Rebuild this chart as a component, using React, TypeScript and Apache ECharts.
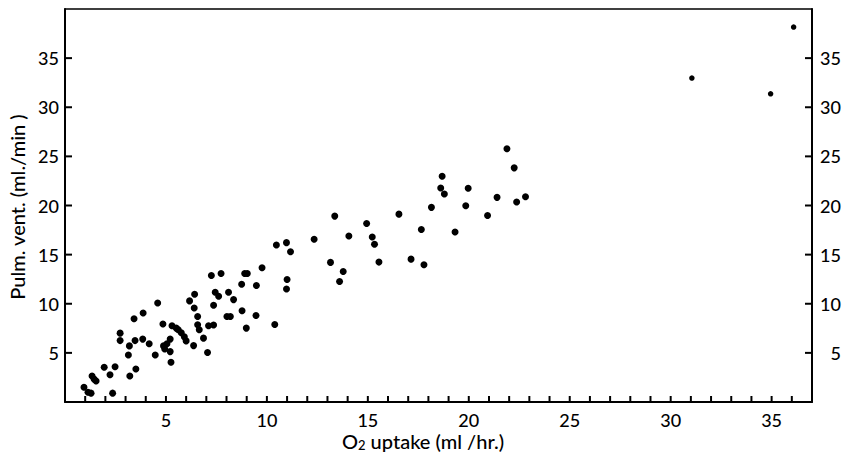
import React, { useEffect, useRef } from "react";
import * as echarts from "echarts";

// O2 uptake (ml/hr) and pulmonary ventilation (ml/min)
const o2Uptake = [
  0.94, 1.14, 1.29, 1.34, 1.44, 1.54, 1.94, 2.23, 2.48, 2.36,
  2.73, 2.73, 3.14, 3.19, 3.21, 3.42, 3.47, 3.51, 3.87, 3.85,
  4.17, 4.47, 4.59, 4.85, 4.88, 4.94, 5.05, 5.21, 5.21, 5.25,
  5.3, 5.51, 5.61, 5.76, 5.91, 6.0, 6.17, 6.37, 6.4, 6.42,
  6.57, 6.57, 6.65, 6.86, 7.06, 7.11, 7.36, 7.25, 7.36, 7.44,
  7.61, 7.73, 8.02, 8.19, 8.1, 8.35, 8.75, 8.77, 8.9, 9.03,
  8.98, 9.48, 9.46, 9.76, 10.39, 10.47, 10.97, 11.0, 10.97, 11.17,
  12.34, 13.15, 13.36, 13.6, 13.78, 14.06, 14.94, 15.22, 15.33, 15.55,
  16.54, 17.14, 17.65, 17.78, 18.15, 18.61, 18.68, 18.79, 19.32, 19.85,
  19.97, 20.93, 21.4, 21.89, 22.25, 22.37, 22.81,
];
const pulmVent = [
  1.51, 1.0, 0.9, 2.64, 2.33, 2.13, 3.53, 2.77, 3.59, 0.9,
  7.01, 6.25, 4.79, 5.71, 2.64, 8.47, 6.25, 3.36, 9.06, 6.4,
  5.92, 4.79, 10.08, 7.93, 5.71, 5.4, 5.92, 6.4, 5.13, 4.04,
  7.76, 7.52, 7.35, 7.04, 6.63, 6.22, 10.29, 5.74, 9.57, 10.96,
  8.71, 7.86, 7.35, 6.5, 5.03, 7.76, 7.83, 12.88, 9.84, 11.17,
  10.76, 13.08, 8.71, 8.71, 11.17, 10.42, 11.99, 9.29, 13.08, 13.08,
  7.52, 11.85, 8.81, 13.66, 7.89, 15.98, 16.22, 12.47, 11.51, 15.3,
  16.56, 14.21, 18.92, 12.26, 13.29, 16.9, 18.17, 16.8, 16.05, 14.24,
  19.12, 14.54, 17.55, 13.97, 19.81, 21.78, 22.98, 21.17, 17.31, 19.97,
  21.75, 18.99, 20.83, 25.77, 23.83, 20.35, 20.89,
];
// the three high values at the right
const o2UptakeHigh = [31.05, 34.95, 36.09];
const pulmVentHigh = [32.97, 31.37, 38.16];

// tick marks of the frame
const xTickValues = [
  1, 2, 3, 4, 5, 6, 7, 8, 9, 10, 11, 12, 13, 14, 15, 16, 17, 18,
  19, 20, 21, 22, 23, 24, 25, 26, 27, 28, 29, 30, 31, 32, 33, 34, 35, 36,
];
const yTickValues = [5, 10, 15, 20, 25, 30, 35];

const xMax = 37;
const yMax = 40;

const FONT = "Lato, 'Open Sans', sans-serif";

export default function App() {
  const ref = useRef<HTMLDivElement>(null);

  useEffect(() => {
    if (!ref.current) return;
    const chart = echarts.init(ref.current, null, { renderer: "svg" });

    const main = o2Uptake.map((x, i) => [x, pulmVent[i]]);
    const high = o2UptakeHigh.map((x, i) => [x, pulmVentHigh[i]]);

    const yLabel = (v: number) => (v > 0 && v < yMax ? String(v) : "");
    const axisLine = () => ({ show: true, onZero: false, lineStyle: { color: "#000", width: 2 } });

    // tick marks drawn through the axes' own scale (dx, dy: direction into the plot)
    const tickSeries = (data: number[][], dx: number, dy: number) => ({
      type: "custom",
      xAxisIndex: 0,
      yAxisIndex: 0,
      data,
      clip: false,
      silent: true,
      z: 5,
      renderItem: (_params: any, api: any) => {
        const p = api.coord([api.value(0), api.value(1)]);
        return {
          type: "line",
          shape: { x1: p[0], y1: p[1], x2: p[0] + dx, y2: p[1] + dy },
          style: { stroke: "#000", lineWidth: 2 },
        };
      },
    });

    chart.setOption({
      animation: false,
      backgroundColor: "#fff",
      grid: { left: 65, right: 33, top: 9, bottom: 56 },
      xAxis: [
        {
          type: "value",
          position: "bottom",
          min: 0,
          max: xMax,
          interval: 1,
          axisLine: axisLine(),
          axisTick: { show: false },
          axisLabel: {
            margin: 9,
            fontFamily: FONT,
            fontSize: 18,
            lineHeight: 18,
            fontWeight: 500,
            color: "#000",
            formatter: (v: number) => (v > 0 && v % 5 === 0 ? String(v) : ""),
          },
          splitLine: { show: false },
        },
        {
          type: "value",
          position: "top",
          min: 0,
          max: xMax,
          axisLine: { show: true, onZero: false, lineStyle: { color: "#000", width: 1.6 } },
          axisTick: { show: false },
          axisLabel: { show: false },
          splitLine: { show: false },
        },
      ],
      yAxis: [
        {
          type: "value",
          position: "left",
          min: 0,
          max: yMax,
          interval: 5,
          axisLine: axisLine(),
          axisTick: { show: false },
          axisLabel: { margin: 6, fontFamily: FONT, fontSize: 18, fontWeight: 500, color: "#000", formatter: yLabel },
          splitLine: { show: false },
        },
        {
          type: "value",
          position: "right",
          min: 0,
          max: yMax,
          interval: 5,
          axisLine: axisLine(),
          axisTick: { show: false },
          axisLabel: {
            margin: 29,
            align: "right",
            fontFamily: FONT,
            fontSize: 18,
            fontWeight: 500,
            color: "#000",
            formatter: yLabel,
          },
          splitLine: { show: false },
        },
      ],
      series: [
        tickSeries(xTickValues.map((v) => [v, 0]), 0, -6),
        tickSeries(yTickValues.map((v) => [0, v]), 7, 0),
        tickSeries(yTickValues.map((v) => [xMax, v]), -7, 0),
        {
          type: "scatter",
          xAxisIndex: 0,
          yAxisIndex: 0,
          data: main,
          symbol: "circle",
          symbolSize: 7,
          itemStyle: { color: "#000", opacity: 1 },
          z: 4,
        },
        {
          type: "scatter",
          xAxisIndex: 0,
          yAxisIndex: 0,
          data: high,
          symbol: "circle",
          symbolSize: 5.5,
          itemStyle: { color: "#000", opacity: 1 },
          z: 4,
        },
      ],
      graphic: [
        {
          type: "text",
          x: 423,
          y: 441,
          style: {
            text: "{a|O}{b|2}{a| uptake (ml /hr.)}",
            align: "center",
            verticalAlign: "middle",
            fill: "#000",
            rich: {
              a: { fontFamily: FONT, fontSize: 20, fontWeight: 500, lineHeight: 20, fill: "#000" },
              b: { fontFamily: FONT, fontSize: 13, fontWeight: 500, lineHeight: 13, verticalAlign: "bottom", fill: "#000" },
            },
          },
        },
        {
          type: "text",
          x: 17,
          y: 207,
          rotation: Math.PI / 2,
          style: {
            text: "Pulm. vent. (ml./min )",
            align: "center",
            verticalAlign: "middle",
            fontFamily: FONT,
            fontSize: 20,
            fontWeight: 500,
            fill: "#000",
          },
        },
      ],
    });

    return () => chart.dispose();
  }, []);

  return (
    <div
      ref={ref}
      style={{ position: "fixed", left: 0, top: 0, width: 845, height: 458, background: "#fff" }}
    />
  );
}
